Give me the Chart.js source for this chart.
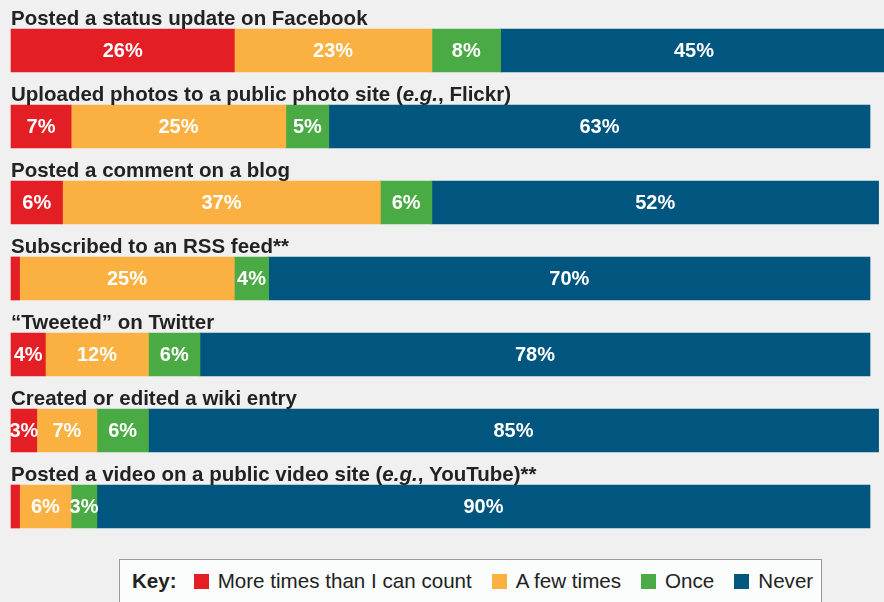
<!DOCTYPE html>
<html>
<head>
<meta charset="utf-8">
<script src="https://cdn.jsdelivr.net/npm/chart.js@4"></script>
<style>
  body { margin: 0; background: #f0f0f0; }
  #wrap { position: relative; width: 884px; height: 602px; overflow: hidden; }
  #key {
    position: absolute; left: 119px; top: 559px; width: 703px; height: 50px;
    background: #fbfcfc; border: 1.5px solid #9a9a9a; box-sizing: border-box;
    font-family: "Liberation Sans", Arial, sans-serif; font-size: 20.6px; color: #222;
    display: flex; align-items: center; padding: 0 0 6px 12px;
  }
  #key b { margin-right: 17px; }
  #key .sw { display: inline-block; width: 15px; height: 15px; margin-right: 9px; }
  #key .item { display: flex; align-items: center; margin-right: 20px; white-space: nowrap; }
</style>
</head>
<body>
<div id="wrap">
  <canvas id="grafico"></canvas>
  <div id="key"><b>Key:</b></div>
</div>
<script>
const atividades = [
  "Posted a status update on Facebook",
  "Uploaded photos to a public photo site (e.g., Flickr)",
  "Posted a comment on a blog",
  "Subscribed to an RSS feed**",
  "\u201cTweeted\u201d on Twitter",
  "Created or edited a wiki entry",
  "Posted a video on a public video site (e.g., YouTube)**",
];

const series = ["More times than I can count", "A few times", "Once", "Never"];
const cores = ["#e31e25", "#fbb042", "#4aab44", "#015680"];

const muitas = [26, 7, 6, 1, 4, 3, 1];
const poucas = [23, 25, 37, 25, 12, 7, 6];
const umaVez = [8, 5, 6, 4, 6, 6, 3];
const nunca = [45, 63, 52, 70, 78, 85, 90];

const valores = [muitas, poucas, umaVez, nunca];

// legenda em html
const key = document.getElementById("key");
series.forEach((nome, i) => {
  const item = document.createElement("span");
  item.className = "item";
  item.innerHTML = '<span class="sw" style="background:' + cores[i] + '"></span>' + nome;
  key.appendChild(item);
});

// titulos acima de cada barra (e.g. em italico)
const titulosPlugin = {
  id: "titulos",
  afterDatasetsDraw(chart) {
    const ctx = chart.ctx;
    const meta = chart.getDatasetMeta(0);
    ctx.save();
    ctx.fillStyle = "#222";
    ctx.textBaseline = "alphabetic";
    ctx.textAlign = "left";
    meta.data.forEach((bar, i) => {
      const top = bar.y - bar.height / 2;
      let x = chart.chartArea.left;
      const partes = atividades[i].split(/(e\.g\.)/);
      partes.forEach((p) => {
        ctx.font = (p === "e.g." ? "italic " : "") + "bold 20.5px 'Liberation Sans', Arial, sans-serif";
        ctx.fillText(p, x, top - 4);
        x += ctx.measureText(p).width;
      });
    });
    ctx.restore();
  },
};

// rotulos de porcentagem dentro das barras
const rotulosPlugin = {
  id: "rotulos",
  afterDatasetsDraw(chart) {
    const ctx = chart.ctx;
    ctx.save();
    ctx.fillStyle = "#fff";
    ctx.font = "bold 20px 'Liberation Sans', Arial, sans-serif";
    ctx.textAlign = "center";
    ctx.textBaseline = "middle";
    chart.data.datasets.forEach((ds, d) => {
      chart.getDatasetMeta(d).data.forEach((bar, i) => {
        const v = ds.data[i];
        if (v <= 1) return;
        ctx.fillText(v + "%", (bar.x + bar.base) / 2, bar.y + 1);
      });
    });
    ctx.restore();
  },
};

const ctx = document.getElementById("grafico").getContext("2d");
const myChart = new Chart(ctx, {
  type: "bar",
  data: {
    labels: atividades,
    datasets: series.map((nome, i) => ({
      label: nome,
      data: valores[i],
      backgroundColor: cores[i],
      borderWidth: 0,
      barThickness: 43,
      clip: false,
    })),
  },
  options: {
    indexAxis: "y",
    responsive: true,
    maintainAspectRatio: false,
    animation: false,
    layout: { padding: { left: 11, right: 14, top: 12.5, bottom: 57.5 } },
    scales: {
      x: { stacked: true, min: 0, max: 100, display: false },
      y: { stacked: true, display: false },
    },
    plugins: {
      legend: { display: false },
      tooltip: { enabled: false },
    },
  },
  plugins: [titulosPlugin, rotulosPlugin],
});
</script>
</body>
</html>
